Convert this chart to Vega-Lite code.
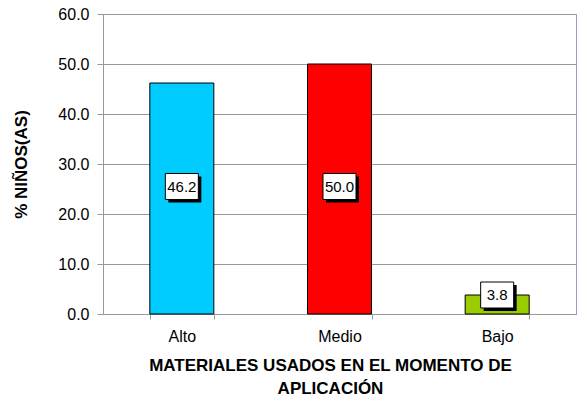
{
  "$schema": "https://vega.github.io/schema/vega-lite/v6.json",
  "width": 473,
  "height": 300,
  "autosize": "none",
  "padding": {"left": 103, "top": 14, "right": 10, "bottom": 97},
  "background": "white",
  "config": {
    "font": "Liberation Sans",
    "view": {"stroke": "#9c9cc4", "strokeWidth": 1}
  },
  "data": {
    "values": [
      {"nivel": "Alto", "pct": 46.2},
      {"nivel": "Medio", "pct": 50.0},
      {"nivel": "Bajo", "pct": 3.8}
    ]
  },
  "transform": [{"calculate": "min(datum.pct, 25.5)", "as": "pos"}],
  "encoding": {
    "x": {
      "field": "nivel",
      "type": "nominal",
      "sort": null,
      "scale": {"paddingInner": 0.594, "paddingOuter": 0.297},
      "axis": {
        "labelAngle": 0,
        "labelFontSize": 16,
        "labelColor": "black",
        "labelPadding": 9,
        "tickBand": "extent",
        "tickSize": 5,
        "tickColor": "#999999",
        "domainColor": "#999999",
        "title": ["MATERIALES USADOS EN EL MOMENTO DE", "APLICACIÓN"],
        "titleFontSize": 17,
        "titleFontWeight": "bold",
        "titleColor": "black",
        "titleLineHeight": 23,
        "titlePadding": 13,
        "titleX": 227
      }
    }
  },
  "layer": [
    {
      "mark": {"type": "bar", "stroke": "black", "strokeWidth": 1},
      "encoding": {
        "y": {
          "field": "pct",
          "type": "quantitative",
          "scale": {"domain": [0, 60]},
          "axis": {
            "values": [0, 10, 20, 30, 40, 50, 60],
            "format": ".1f",
            "labelFontSize": 16,
            "labelColor": "black",
            "labelPadding": 8,
            "tickSize": 6,
            "tickColor": "#999999",
            "domainColor": "#999999",
            "gridColor": "#999999",
            "title": "% NIÑOS(AS)",
            "titleFontSize": 17,
            "titleFontWeight": "bold",
            "titleColor": "black",
            "titlePadding": 27
          }
        },
        "color": {
          "field": "nivel",
          "type": "nominal",
          "sort": null,
          "scale": {"domain": ["Alto", "Medio", "Bajo"], "range": ["#00CCFF", "#FF0000", "#99CC00"]},
          "legend": null
        }
      }
    },
    {
      "mark": {"type": "rect", "width": 33, "height": 26, "fill": "black", "xOffset": 3, "yOffset": 3},
      "encoding": {"y": {"field": "pos", "type": "quantitative"}}
    },
    {
      "mark": {"type": "rect", "width": 33, "height": 26, "fill": "white", "stroke": "black", "strokeWidth": 1},
      "encoding": {"y": {"field": "pos", "type": "quantitative"}}
    },
    {
      "mark": {"type": "text", "fontSize": 15, "color": "black", "baseline": "middle"},
      "encoding": {
        "y": {"field": "pos", "type": "quantitative"},
        "text": {"field": "pct", "type": "quantitative", "format": ".1f"}
      }
    }
  ]
}
